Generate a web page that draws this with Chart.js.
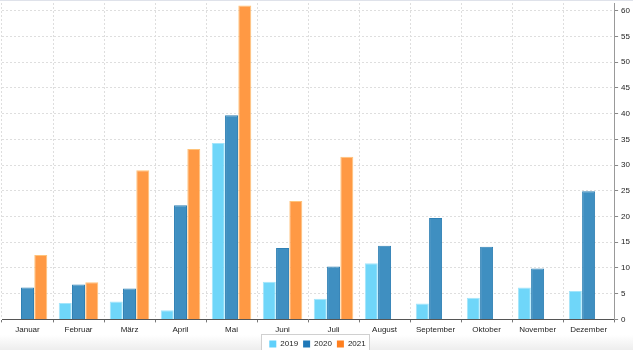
<!DOCTYPE html>
<html>
<head>
<meta charset="utf-8">
<script src="https://cdn.jsdelivr.net/npm/chart.js@4/dist/chart.umd.min.js"></script>
<style>
  html, body { margin: 0; padding: 0; background: #fff; }
  #wrap {
    width: 633px; height: 350px; position: relative; box-sizing: border-box;
    border-top: 1px solid #dfe2ea;
    background: linear-gradient(to bottom, #fff 0, #fff 334px, #ececec 350px);
  }
</style>
</head>
<body>
<div id="wrap"><canvas id="monate"></canvas></div>
<script>
// Daten
const monate = ["Januar", "Februar", "März", "April", "Mai", "Juni", "Juli", "August", "September", "Oktober", "November", "Dezember"];
const jahre = ["2019", "2020", "2021"];
const werte2019 = [0, 3.2, 3.5, 1.8, 34.3, 7.3, 4.0, 10.9, 3.1, 4.2, 6.2, 5.5];
const werte2020 = [6.2, 6.8, 6.0, 22.2, 39.7, 13.9, 10.3, 14.3, 19.7, 14.1, 9.9, 24.9];
const werte2021 = [12.5, 7.2, 29.0, 33.1, 61.0, 23.0, 31.6, null, null, null, null, null];
const legendeFarben = ['#5fd0fb', '#1f78b8', '#ff7f1e'];

// weisser Kasten mit Rahmen hinter der Legende
const legendeRahmen = {
    id: 'legendeRahmen',
    beforeDraw(chart) {
        const lg = chart.legend;
        if (!lg || !lg.legendHitBoxes || !lg.legendHitBoxes.length) return;
        const boxes = lg.legendHitBoxes;
        const l = Math.min(...boxes.map(b => b.left)) - 8;
        const r = Math.max(...boxes.map(b => b.left + b.width)) + 4;
        const t = boxes[0].top - 6;
        const b = boxes[0].top + boxes[0].height + 5;
        const ctx = chart.ctx;
        ctx.save();
        ctx.fillStyle = '#fff';
        ctx.fillRect(l, t, r - l, b - t);
        ctx.strokeStyle = '#d0d0d0';
        ctx.lineWidth = 1;
        ctx.strokeRect(Math.round(l) + 0.5, Math.round(t) + 0.5, Math.round(r - l), Math.round(b - t));
        ctx.restore();
    }
};

const grafico = document.getElementById('monate');
const myChart = new Chart(grafico, {
    type: 'bar',
    data: {
        labels: monate,
        datasets: [{
            label: jahre[0],
            data: werte2019,
            backgroundColor: '#6fd6f9',
            borderColor: '#a3e5fb',
            borderWidth: 1
        }, {
            label: jahre[1],
            data: werte2020,
            backgroundColor: '#3f8fc1',
            borderColor: '#2f80b4',
            borderWidth: 1
        }, {
            label: jahre[2],
            data: werte2021,
            backgroundColor: '#ff9944',
            borderColor: '#ffc37a',
            borderWidth: 1
        }]
    },
    options: {
        responsive: true,
        maintainAspectRatio: false,
        animation: false,
        categoryPercentage: 0.78,
        barPercentage: 0.98,
        layout: { padding: { left: 2, right: 0, top: 2, bottom: -8 } },
        plugins: {
            tooltip: { enabled: false },
            legend: {
                position: 'bottom',
                labels: {
                    boxWidth: 7,
                    boxHeight: 7,
                    padding: 5,
                    color: '#222',
                    font: { family: 'Liberation Sans', size: 8 },
                    generateLabels(chart) {
                        return chart.data.datasets.map((ds, i) => ({
                            text: ds.label,
                            fillStyle: legendeFarben[i],
                            strokeStyle: legendeFarben[i],
                            lineWidth: 0,
                            fontColor: '#222',
                            hidden: false,
                            datasetIndex: i
                        }));
                    }
                }
            }
        },
        scales: {
            x: {
                afterFit(scale) {
                    scale.height -= 3;
                },
                grid: {
                    color: '#dedede',
                    tickColor: '#777',
                    tickLength: 3
                },
                border: { color: '#555', dash: [2, 2] },
                ticks: {
                    color: '#222',
                    padding: 3,
                    maxRotation: 0,
                    font: { family: 'Liberation Sans', size: 8 }
                }
            },
            y: {
                position: 'right',
                min: 0,
                max: 61.5,
                afterFit(scale) {
                    scale.paddingTop = 0;
                },
                grid: {
                    color: '#dedede',
                    tickColor: '#888',
                    tickLength: 4
                },
                border: { color: '#999', dash: [2, 2] },
                ticks: {
                    stepSize: 5,
                    includeBounds: false,
                    color: '#222',
                    padding: 3,
                    font: { family: 'Liberation Sans', size: 8 }
                }
            }
        }
    },
    plugins: [legendeRahmen]
});
</script>
</body>
</html>
